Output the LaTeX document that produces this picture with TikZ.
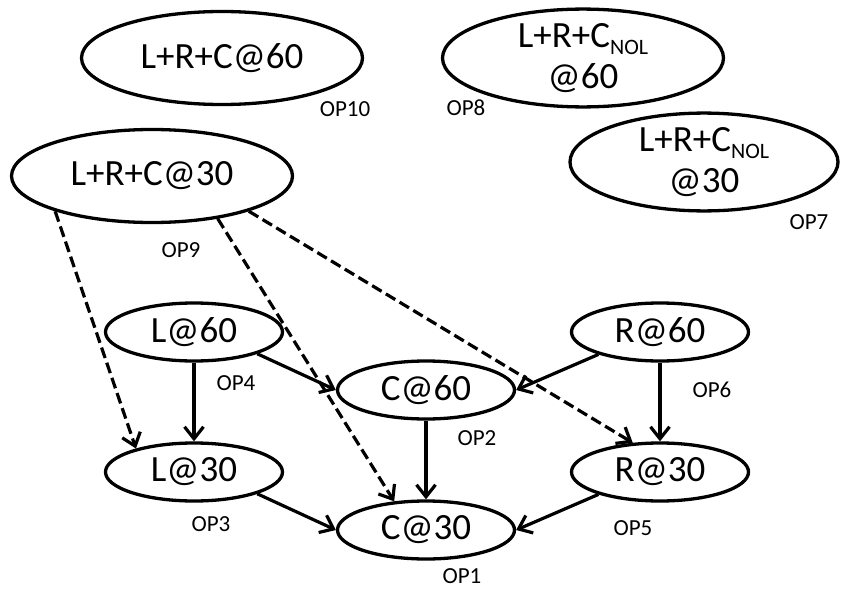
\documentclass[tikz,border=0pt]{standalone}
\usepackage{fontspec}
\setmainfont{Carlito}
\usetikzlibrary{shapes.geometric,arrows.meta}
\newcommand{\nolsub}{\raisebox{-7pt}{\fontsize{22}{22}\selectfont NOL}}
\begin{document}
\begin{tikzpicture}[x=1pt,y=-1pt,
  st/.style={draw, ellipse, line width=3.3pt, inner sep=0pt, font=\fontsize{37}{41}\selectfont, align=center},
  big/.style={st, minimum width=281pt, minimum height=93pt},
  small/.style={st, minimum width=177pt, minimum height=58pt},
  lab/.style={font=\fontsize{23}{26}\selectfont, inner sep=0pt},
  arr/.style={line width=3.2pt, -{Straight Barb[length=12pt,width=19pt]}},
  darr/.style={arr, dash pattern=on 11pt off 5pt}]
\useasboundingbox (0,0) rectangle (841,589);
% top ellipses
\node[big] (e10) at (222,58) {L+R+C@60};
\node[big] (e8) at (583,58) {L+R+C\nolsub\\@60};
\node[big] (e9) at (152,176) {L+R+C@30};
\node[st, minimum width=268pt, minimum height=94pt] (e7) at (704,162) {L+R+C\nolsub\\@30};
% lower ellipses
\node[small] (l60) at (194,332) {L@60};
\node[small] (l30) at (194,472) {L@30};
\node[small] (c60) at (426,390) {C@60};
\node[small] (c30) at (426,530) {C@30};
\node[small] (r60) at (660,332) {R@60};
\node[small] (r30) at (660,472) {R@30};
% labels
\node[lab] (op10) at (345,109) {OP10};
\node[lab] (op8) at (466,108) {OP8};
\node[lab] (op7) at (809,222) {OP7};
\node[lab] (op9) at (181,250) {OP9};
\node[lab] (op4) at (236,383) {OP4};
\node[lab] (op3) at (211,524) {OP3};
\node[lab] (op2) at (477,438) {OP2};
\node[lab] (op6) at (712,390) {OP6};
\node[lab] (op5) at (633,528) {OP5};
\node[lab] (op1) at (462,576) {OP1};
% solid arrows
\draw[arr] (l60.south) -- (l30.north);
\draw[arr] (c60.south) -- (c30.north);
\draw[arr] (r60.south) -- (r30.north);
\draw[arr] (l60.341) -- (c60.west);
\draw[arr] (l30.341) -- (c30.west);
\draw[arr] (r60.200) -- (c60.east);
\draw[arr] (r30.200) -- (c30.east);
% dashed arrows
\draw[darr] (e9.200) -- (l30.158);
\draw[darr] (e9.327) -- (c30.138);
\draw[darr] (e9.340) -- (r30.133);
\end{tikzpicture}
\end{document}
